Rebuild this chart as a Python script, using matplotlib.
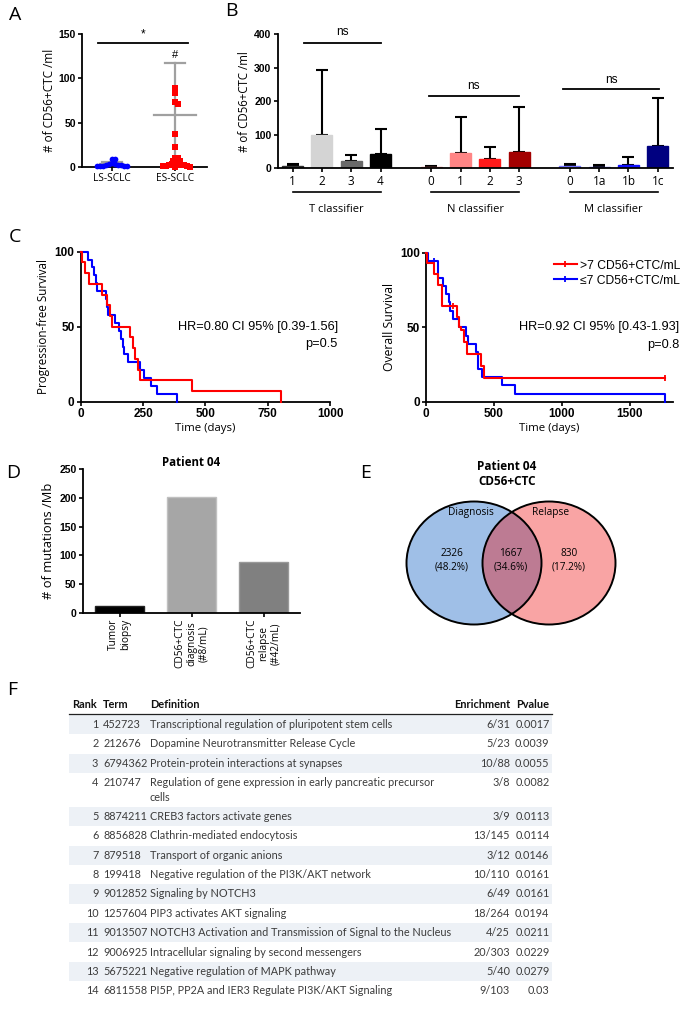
import textwrap
import numpy as np
import matplotlib
matplotlib.use("Agg")
import matplotlib.pyplot as plt
from matplotlib.patches import Ellipse, Rectangle
from matplotlib.lines import Line2D
import matplotlib.transforms as mtransforms

# ---------------- data ----------------
# A: CD56+CTC per ml by stage
a_groups = ["LS-SCLC", "ES-SCLC"]
a_ls = [9, 9, 4, 3, 3, 2, 2, 2, 1, 1, 1, 1, 1]
a_es = [89, 83, 73, 71, 37, 22, 10, 10, 7, 7, 4, 3, 3, 2, 2, 2, 1, 1, 1, 0, 0]
a_mean = [3.5, 58.6]
a_sd = [2.0, 58.4]

# B: CD56+CTC per ml by TNM classifier
b_groups = ["T classifier", "N classifier", "M classifier"]
b_ticks = [["1", "2", "3", "4"], ["0", "1", "2", "3"], ["0", "1a", "1b", "1c"]]
b_means = [[7, 99, 22, 43], [3, 45, 28, 50], [6, 5, 11, 67]]
b_sd = [[5, 194, 18, 74], [5, 108, 37, 132], [6, 6, 24, 142]]
b_colors = [["#595959", "#d4d4d4", "#6a6a6a", "#000000"],
            ["#f4a6a6", "#ff8585", "#ff1a1a", "#a30000"],
            ["#ffffff", "#a0a0ff", "#1010ff", "#000080"]]
b_edges = [["#303030", "#d4d4d4", "#6a6a6a", "#000000"],
           ["#f08080", "#ff8585", "#ff1a1a", "#a30000"],
           ["#7070ff", "#6a6aff", "#1010ff", "#000080"]]

# C: Kaplan-Meier step curves (days, % surviving)
pfs_hi_t = [0, 5, 17, 35, 85, 107, 118, 126, 196, 210, 219, 230, 236, 445, 804]
pfs_hi_s = [100, 92.9, 85.7, 78.6, 71.4, 64.3, 57.1, 50, 42.9, 35.7, 28.6, 21.4, 14.3, 7.1, 0]
pfs_lo_t = [0, 31, 45, 55, 62, 65, 102, 107, 111, 138, 155, 161, 168, 175, 190, 239, 253, 280, 306, 388]
pfs_lo_s = [100, 94.7, 89.5, 84.2, 78.9, 73.7, 68.4, 63.2, 57.9, 52.6, 47.4, 42.1, 36.8, 31.6,
            26.3, 21.1, 15.8, 10.5, 5.3, 0]
os_hi_t = [0, 5, 57, 89, 118, 229, 246, 261, 278, 298, 404, 424, 1756]
os_hi_s = [100, 92.9, 85.7, 78.6, 64.3, 57.1, 50, 48, 40, 32, 24, 16, 16]
os_lo_t = [0, 15, 90, 128, 150, 170, 180, 195, 246, 296, 310, 369, 380, 414, 561, 655, 1760]
os_lo_s = [100, 94.4, 83.3, 77.8, 72.2, 66.7, 61.1, 55.6, 50, 44.4, 38.9, 33.3, 22.2, 16.7,
           11.1, 5.6, 0]
os_hi_cens_t = [200, 1756]
os_hi_cens_s = [64.3, 16]
os_lo_cens_t = [60]
os_lo_cens_s = [94.4]
km_labels = [">7 CD56+CTC/mL", "\u22647 CD56+CTC/mL"]

# D: mutation burden, patient 04
d_labels = ["Tumor\nbiopsy", "CD56+CTC\ndiagnosis\n(#8/mL)", "CD56+CTC\nrelapse\n(#42/mL)"]
d_values = [11, 202, 88]
d_colors = ["#000000", "#a6a6a6", "#808080"]

# E: Venn
e_sets = ["Diagnosis", "Relapse"]
e_counts = [2326, 1667, 830]
e_pct = [48.2, 34.6, 17.2]

# F: pathway enrichment table
f_rank = list(range(1, 15))
f_term = ["452723", "212676", "6794362", "210747", "8874211", "8856828", "879518",
          "199418", "9012852", "1257604", "9013507", "9006925", "5675221", "6811558"]
f_def = ["Transcriptional regulation of pluripotent stem cells",
         "Dopamine Neurotransmitter Release Cycle",
         "Protein-protein interactions at synapses",
         "Regulation of gene expression in early pancreatic precursor cells",
         "CREB3 factors activate genes",
         "Clathrin-mediated endocytosis",
         "Transport of organic anions",
         "Negative regulation of the PI3K/AKT network",
         "Signaling by NOTCH3",
         "PIP3 activates AKT signaling",
         "NOTCH3 Activation and Transmission of Signal to the Nucleus",
         "Intracellular signaling by second messengers",
         "Negative regulation of MAPK pathway",
         "PI5P, PP2A and IER3 Regulate PI3K/AKT Signaling"]
f_enrich = ["6/31", "5/23", "10/88", "3/8", "3/9", "13/145", "3/12", "10/110", "6/49",
            "18/264", "4/25", "20/303", "5/40", "9/103"]
f_pval = ["0.0017", "0.0039", "0.0055", "0.0082", "0.0113", "0.0114", "0.0146", "0.0161",
          "0.0161", "0.0194", "0.0211", "0.0229", "0.0279", "0.03"]

# ---------------- layout helpers ----------------
W, H = 685, 1017
plt.rcParams['font.family'] = ['Open Sans', 'DejaVu Sans']
plt.rcParams['axes.linewidth'] = 1.3

fig = plt.figure(figsize=(W / 100, H / 100), dpi=100)


def px_axes(l, t, r, b, **kw):
    return fig.add_axes([l / W, 1 - b / H, (r - l) / W, (b - t) / H], **kw)


def ftext(x, y, s, **kw):
    fig.text(x / W, 1 - y / H, s, **kw)


def style(ax, tsize=7.5, xbold=False):
    for s in ['top', 'right']:
        ax.spines[s].set_visible(False)
    ax.tick_params(width=1.2, length=3, pad=1.5)
    bold = dict(family='Liberation Sans', weight='bold', size=tsize)
    for t in ax.get_yticklabels():
        t.set_fontproperties(dict(bold))
    if xbold:
        for t in ax.get_xticklabels():
            t.set_fontproperties(dict(bold))


def swarm(vals, px_x, px_y, sep):
    # simple beeswarm: shift each point sideways until it clears the placed ones
    placed = []
    offs = []
    for v in vals:
        y = v * px_y
        k = 0
        while True:
            o = ((k + 1) // 2) * 0.6 * (1 if k % 2 else -1)
            if all((o - px) ** 2 + (y - py) ** 2 >= sep ** 2 for px, py in placed):
                break
            k += 1
        placed.append((o, y))
        offs.append(o / px_x)
    return np.array(offs)


# overlay axes in pixel coordinates (panels E, F)
ov = fig.add_axes([0, 0, 1, 1], zorder=-1)
ov.set_xlim(0, W)
ov.set_ylim(H, 0)
ov.axis('off')

# ---------------- panel A ----------------
axA = px_axes(82, 34, 207, 167)
axA.set_xlim(-0.47, 1.51)
axA.set_ylim(0, 150)
for i, (vals, col, mk, sz) in enumerate([(a_ls, '#0000ff', 'o', 17), (a_es, '#ff0000', 's', 14)]):
    m, sd = a_mean[i], a_sd[i]
    hw = 0.18 if i == 0 else 0.33
    axA.plot([i, i], [max(m - sd, 0), m + sd], color='#a0a0a0', lw=1.6, zorder=1)
    axA.plot([i - hw, i + hw], [m, m], color='#a0a0a0', lw=1.6, zorder=1)
    axA.plot([i - 0.16, i + 0.16], [m + sd, m + sd], color='#a0a0a0', lw=1.6, zorder=1)
    sv = sorted(vals, reverse=True)
    offs = swarm(sv, 63, 0.887, 3.0)
    axA.scatter(i + offs, sv, s=sz, marker=mk, color=col, linewidths=0, zorder=3,
                clip_on=False)
axA.plot([-0.22, 1.21], [139.5, 139.5], color='black', lw=1.3, clip_on=False)
axA.text(0.5, 143, '*', ha='center', va='bottom', fontsize=8.5, family='Liberation Sans')
axA.text(1, 121, '#', ha='center', va='bottom', fontsize=8, family='Liberation Sans')
axA.set_yticks([0, 50, 100, 150])
axA.set_xticks([0, 1])
axA.set_xticklabels(a_groups, fontsize=7.3)
axA.set_ylabel('# of CD56+CTC /ml', fontsize=8.5, labelpad=2)
style(axA)

# ---------------- panel B ----------------
axB = px_axes(277.7, 34.3, 673, 168.3)
axB.set_xlim(-0.51, 12.98)
axB.set_ylim(0, 400)
group_start = [0, 4.73, 9.46]
tr = mtransforms.blended_transform_factory(axB.transData, axB.transAxes)
all_pos, all_lab = [], []
for g in range(3):
    pos = group_start[g] + np.arange(4)
    axB.bar(pos, b_means[g], width=0.72, color=b_colors[g], edgecolor=b_edges[g],
            linewidth=1.0, zorder=2)
    axB.errorbar(pos, b_means[g], yerr=[np.zeros(4), b_sd[g]], fmt='none', ecolor='black',
                 elinewidth=1.5, capsize=4, capthick=1.5, zorder=1)
    all_pos += list(pos)
    all_lab += b_ticks[g]
    # group underline and label
    axB.plot([pos[0], pos[-1]], [-0.175, -0.175], color='black', lw=1.2, transform=tr,
             clip_on=False)
    axB.text((pos[0] + pos[-1]) / 2, -0.27, b_groups[g], transform=tr, ha='center',
             va='top', fontsize=8)
sig = [(0.4, 3.0, 375, 390), (4.64, 7.73, 216, 228), (9.24, 12.5, 236, 246)]
for x0, x1, y, ty in sig:
    axB.plot([x0, x1], [y, y], color='black', lw=1.3, clip_on=False)
    axB.text((x0 + x1) / 2, ty, 'ns', ha='center', va='bottom', fontsize=8.5,
             family='Liberation Sans')
axB.set_yticks([0, 100, 200, 300, 400])
axB.set_xticks(all_pos)
axB.set_xticklabels(all_lab, fontsize=8.5)
axB.set_ylabel('# of CD56+CTC /ml', fontsize=8.3, labelpad=2)
style(axB)

# ---------------- panel C ----------------
axC1 = px_axes(80.7, 251.7, 330, 401.7)
axC2 = px_axes(426, 252.7, 673, 402)
for ax, th, sh, tl, sl, xmax, xt in [
        (axC1, pfs_hi_t, pfs_hi_s, pfs_lo_t, pfs_lo_s, 1000, [0, 250, 500, 750, 1000]),
        (axC2, os_hi_t, os_hi_s, os_lo_t, os_lo_s, 1817, [0, 500, 1000, 1500])]:
    ax.step(tl, sl, where='post', color='#0000ff', lw=1.5, clip_on=False, zorder=3)
    ax.step(th, sh, where='post', color='#ff0000', lw=1.5, clip_on=False, zorder=4)
    ax.set_xlim(0, xmax)
    ax.set_ylim(0, 100)
    ax.set_xticks(xt)
    ax.set_yticks([0, 50, 100])
    ax.set_xlabel('Time (days)', fontsize=8.2, labelpad=2)
    style(ax, tsize=8.5, xbold=True)
axC2.plot(os_hi_cens_t, os_hi_cens_s, ls='none', marker='|', ms=5, mew=1.3, color='#ff0000')
axC2.plot(os_lo_cens_t, os_lo_cens_s, ls='none', marker='|', ms=5, mew=1.3, color='#0000ff')
axC1.set_ylabel('Progression-free Survival', fontsize=8.4, labelpad=3)
axC2.set_ylabel('Overall Survival', fontsize=8.8, labelpad=3)
for ax, hr, p, xr in [(axC1, 'HR=0.80 CI 95% [0.39-1.56]', 'p=0.5', 1.032),
                      (axC2, 'HR=0.92 CI 95% [0.43-1.93]', 'p=0.8', 1.024)]:
    ax.text(xr, 0.5, hr, transform=ax.transAxes, ha='right', va='center', fontsize=9.2,
            family='Liberation Sans')
    ax.text(xr, 0.385, p, transform=ax.transAxes, ha='right', va='center', fontsize=9.2,
            family='Liberation Sans')
handles = [Line2D([0], [0], color='#ff0000', lw=1.5, marker='|', ms=5, mew=1.3),
           Line2D([0], [0], color='#0000ff', lw=1.5, marker='|', ms=5, mew=1.3)]
axC2.legend(handles, km_labels, loc='upper right', bbox_to_anchor=(1.065, 1.01),
            frameon=False, prop=dict(family='Liberation Sans', size=8.7),
            handlelength=1.9, handletextpad=0.3, labelspacing=0.25, borderpad=0.2)

# ---------------- panel D ----------------
axD = px_axes(82.7, 469.3, 300, 612.7)
axD.set_xlim(-0.51, 2.5)
axD.set_ylim(0, 250)
axD.bar(range(3), d_values, width=0.68, color=d_colors,
        edgecolor=['#222222', '#c0c0c0', '#999999'], linewidth=1.0)
axD.set_xticks(range(3))
axD.set_xticklabels(d_labels, rotation=90, fontsize=7.3, linespacing=1.1,
                    multialignment='center')
axD.set_yticks([0, 50, 100, 150, 200, 250])
axD.set_ylabel('# of mutations /Mb', fontsize=9.3, labelpad=3)
axD.set_title('Patient 04', fontsize=8.3, fontweight='bold', pad=2)
style(axD)

# ---------------- panel E ----------------
left_c, right_c = (474, 563), (549, 563)
ov.add_patch(Ellipse(left_c, 135, 123, facecolor='#9fbfe7', edgecolor='none', zorder=1))
e_right = Ellipse(right_c, 133, 123, facecolor='#f9a4a4', edgecolor='none', zorder=1)
ov.add_patch(e_right)
e_mid = Ellipse(left_c, 135, 123, facecolor='#bd7b93', edgecolor='none', zorder=2)
ov.add_patch(e_mid)
e_mid.set_clip_path(e_right)
for c, w in [(left_c, 135), (right_c, 133)]:
    ov.add_patch(Ellipse(c, w, 123, facecolor='none', edgecolor='black', lw=1.4, zorder=3))
ov.text(506.7, 474, 'Patient 04\nCD56+CTC', ha='center', va='center', fontsize=8.5,
        fontweight='bold', linespacing=1.25)
ov.text(471, 512, e_sets[0], ha='center', va='center', fontsize=7.3)
ov.text(551, 512, e_sets[1], ha='center', va='center', fontsize=7.3)
for x, n, p in zip([452, 510.7, 568.7], e_counts, e_pct):
    ov.text(x, 560, f'{n}\n({p}%)', ha='center', va='center', fontsize=7.2, linespacing=1.3,
            zorder=5)

# ---------------- panel F ----------------
TF = dict(family='Lato', size=7.8, color='#3c3c3c')
HF = dict(family='Lato', size=7.9, color='#111111', weight='bold')
col_rank_r, col_term_l, col_def_l, col_enr_r, col_p_r = 98.3, 103.3, 150, 510, 549.5
ov.text(72.5, 705, 'Rank', ha='left', va='center', **HF)
ov.text(col_term_l, 705, 'Term', ha='left', va='center', **HF)
ov.text(col_def_l, 705, 'Definition', ha='left', va='center', **HF)
ov.text(col_enr_r, 705, 'Enrichment', ha='right', va='center', **HF)
ov.text(col_p_r, 705, 'Pvalue', ha='right', va='center', **HF)
ov.plot([69, 552], [714.3, 714.3], color='#222222', lw=0.9)
top = 714.8
row_h, line_h = 19.35, 14.7
for i in range(len(f_rank)):
    lines = textwrap.wrap(f_def[i], 60)
    h = row_h + (len(lines) - 1) * line_h
    if i % 2 == 0:
        ov.add_patch(Rectangle((69, top), 483, h, facecolor='#edf1f6', edgecolor='none',
                               zorder=0))
    yc = top + row_h / 2
    ov.text(col_rank_r, yc, str(f_rank[i]), ha='right', va='center', **TF)
    ov.text(col_term_l, yc, f_term[i], ha='left', va='center', **TF)
    for j, ln in enumerate(lines):
        ov.text(col_def_l, yc + j * line_h, ln, ha='left', va='center', **TF)
    ov.text(col_enr_r, yc, f_enrich[i], ha='right', va='center', **TF)
    ov.text(col_p_r, yc, f_pval[i], ha='right', va='center', **TF)
    top += h

# ---------------- panel letters ----------------
for lab, x, y in [('A', 15, 15), ('B', 231, 11), ('C', 15, 237), ('D', 13, 473),
                  ('E', 366, 473), ('F', 12, 690)]:
    ftext(x, y, lab, fontsize=14, ha='center', va='center')

fig.savefig('out.png', dpi=100)
